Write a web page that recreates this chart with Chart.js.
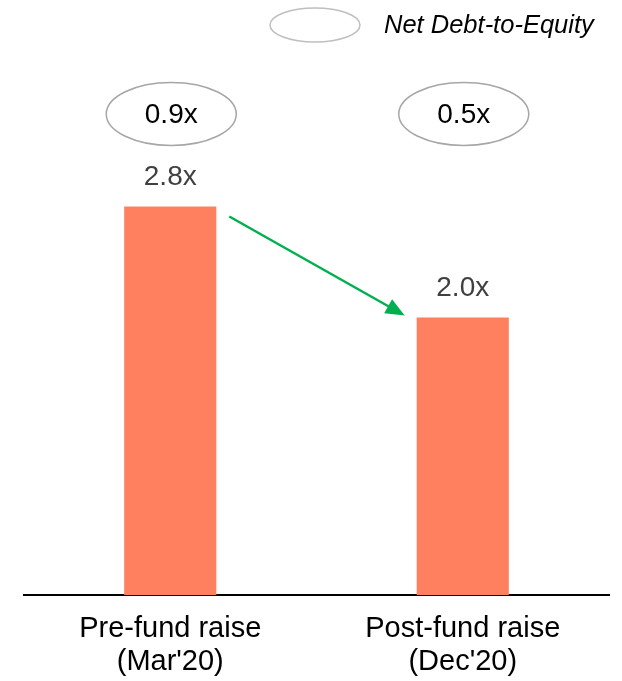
<!DOCTYPE html>
<html>
<head>
<meta charset="utf-8">
<script src="https://cdn.jsdelivr.net/npm/chart.js@4"></script>
<style>
html,body{margin:0;padding:0;background:#fff;}
#wrap{width:622px;height:681px;position:relative;}
</style>
</head>
<body>
<div id="wrap"><canvas id="c" width="622" height="681"></canvas></div>
<script>
const categories = [["Pre-fund raise", "(Mar'20)"], ["Post-fund raise", "(Dec'20)"]];
const debtToEbitda = [2.8, 2.0];
const netDebtToEquity = [0.9, 0.5];
const legendLabel = "Net Debt-to-Equity";

const FONT = '"Liberation Sans", Arial, sans-serif';

const overlay = {
  id: 'overlay',
  afterDatasetsDraw(chart) {
    const ctx = chart.ctx;
    const meta = chart.getDatasetMeta(0);
    ctx.save();
    // value labels
    ctx.font = '28px ' + FONT;
    ctx.fillStyle = '#404040';
    ctx.textAlign = 'center';
    ctx.textBaseline = 'middle';
    meta.data.forEach((bar, i) => {
      ctx.fillText(debtToEbitda[i].toFixed(1) + 'x', bar.x, bar.y - 29);
    });
    // ellipses with net debt-to-equity
    meta.data.forEach((bar, i) => {
      ctx.beginPath();
      ctx.ellipse(bar.x + 1, 114, 65, 31.5, 0, 0, Math.PI * 2);
      ctx.lineWidth = 1.5;
      ctx.strokeStyle = '#a6a6a6';
      ctx.stroke();
      ctx.fillStyle = '#000';
      ctx.fillText(netDebtToEquity[i].toFixed(1) + 'x', bar.x + 1, 115);
    });
    // arrow
    const b0 = meta.data[0], b1 = meta.data[1];
    const x0 = b0.x + b0.width / 2 + 13, y0 = b0.y + 10;
    const x1 = b1.x - b1.width / 2 - 12, y1 = b1.y - 2;
    const ang = Math.atan2(y1 - y0, x1 - x0);
    const headLen = 19, headW = 8;
    ctx.strokeStyle = '#00b050';
    ctx.fillStyle = '#00b050';
    ctx.lineWidth = 2.5;
    ctx.beginPath();
    ctx.moveTo(x0, y0);
    ctx.lineTo(x1 - Math.cos(ang) * headLen * 0.8, y1 - Math.sin(ang) * headLen * 0.8);
    ctx.stroke();
    ctx.beginPath();
    ctx.moveTo(x1, y1);
    ctx.lineTo(x1 - Math.cos(ang) * headLen - Math.sin(ang) * headW, y1 - Math.sin(ang) * headLen + Math.cos(ang) * headW);
    ctx.lineTo(x1 - Math.cos(ang) * headLen + Math.sin(ang) * headW, y1 - Math.sin(ang) * headLen - Math.cos(ang) * headW);
    ctx.closePath();
    ctx.fill();
    // legend
    ctx.beginPath();
    ctx.ellipse(315, 25, 45, 17, 0, 0, Math.PI * 2);
    ctx.lineWidth = 1.5;
    ctx.strokeStyle = '#bfbfbf';
    ctx.stroke();
    ctx.font = 'italic 25.5px ' + FONT;
    ctx.fillStyle = '#000';
    ctx.textAlign = 'left';
    ctx.fillText(legendLabel, 384, 26);
    ctx.restore();
  }
};

new Chart(document.getElementById('c'), {
  type: 'bar',
  data: {
    labels: categories,
    datasets: [{
      data: debtToEbitda,
      backgroundColor: '#ff805e',
      borderWidth: 0,
      barPercentage: 0.63,
      categoryPercentage: 0.5
    }]
  },
  options: {
    responsive: false,
    animation: false,
    layout: { padding: { top: 40, left: 24, right: 13, bottom: -14 } },
    plugins: { legend: { display: false }, tooltip: { enabled: false } },
    scales: {
      x: {
        grid: { display: false, drawTicks: false },
        border: { display: true, color: '#000', width: 2 },
        ticks: {
          color: '#000',
          padding: 17,
          font: { family: FONT, size: 29, lineHeight: 33 / 29 },
          maxRotation: 0,
          autoSkip: false
        }
      },
      y: {
        display: false,
        min: 0,
        max: 4
      }
    }
  },
  plugins: [overlay]
});
</script>
</body>
</html>
